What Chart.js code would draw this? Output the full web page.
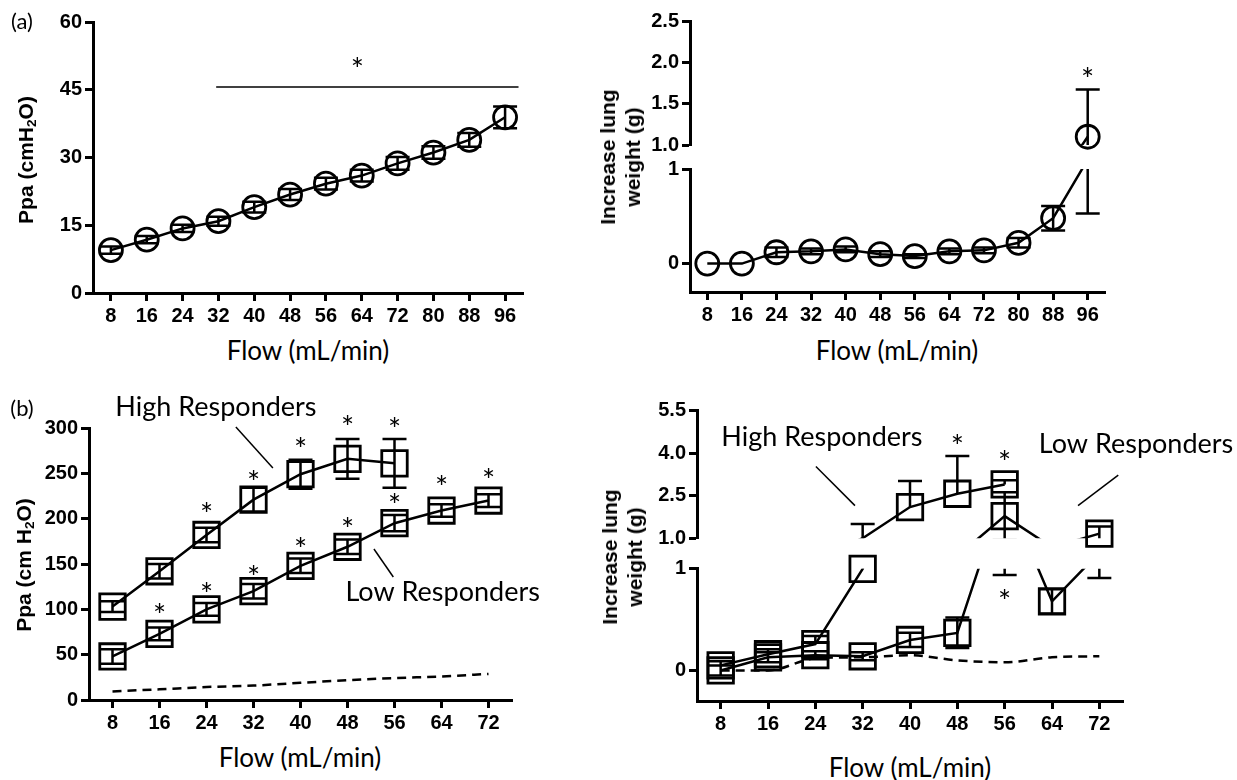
<!DOCTYPE html>
<html>
<head>
<meta charset="utf-8">
<script src="https://cdn.jsdelivr.net/npm/chart.js@4.4.0/dist/chart.umd.min.js"></script>
<style>
html, body { margin: 0; padding: 0; background: #fff; }
#fig { position: relative; width: 1237px; height: 780px; overflow: hidden; }
canvas { position: absolute; }
.t { position: absolute; white-space: nowrap; transform: translate(-50%, -50%); color: #000; }
.flow { font-family: Lato, 'Open Sans', sans-serif; font-size: 26px; }
.lab { font-family: Lato, 'Open Sans', sans-serif; font-size: 22px; }
.yt { font-family: 'Liberation Sans', Arial, sans-serif; font-weight: bold; font-size: 21px; line-height: 25px;
      text-align: center; transform: translate(-50%, -50%) rotate(-90deg); }
sub { font-size: 0.65em; vertical-align: -0.25em; line-height: 0; }
</style>
</head>
<body>
<div id="fig">
  <canvas id="aL"></canvas>
  <canvas id="aRup"></canvas>
  <canvas id="aRlo"></canvas>
  <canvas id="bL"></canvas>
  <canvas id="bRup"></canvas>
  <canvas id="bRlo"></canvas>

  <div class="t lab" style="left:22px;top:20px">(a)</div>
  <div class="t lab" style="left:22px;top:407px">(b)</div>
  <div class="t yt" style="left:25px;top:160px">Ppa (cmH<sub>2</sub>O)</div>
  <div class="t yt" style="left:620px;top:157px">Increase lung<br>weight (g)</div>
  <div class="t yt" style="left:23px;top:565px">Ppa (cm H<sub>2</sub>O)</div>
  <div class="t yt" style="left:622px;top:557px">Increase lung<br>weight (g)</div>
  <div class="t flow" style="left:308px;top:350px">Flow (mL/min)</div>
  <div class="t flow" style="left:897px;top:350px">Flow (mL/min)</div>
  <div class="t flow" style="left:300px;top:757px">Flow (mL/min)</div>
  <div class="t flow" style="left:910px;top:767px">Flow (mL/min)</div>
</div>
<script>
// flow categories
const flowA = ['8', '16', '24', '32', '40', '48', '56', '64', '72', '80', '88', '96'];
const flowB = flowA.slice(0, 9);

// (a) Ppa vs flow
const ppaA = [9.5, 11.8, 14.3, 15.9, 19.0, 21.8, 24.2, 26.0, 28.7, 31.1, 33.9, 38.9];
const ppaAErr = [0.8, 0.8, 0.8, 1.0, 1.2, 1.2, 1.3, 1.3, 1.4, 1.4, 1.5, 2.4];
const ppaATicks = [0, 15, 30, 45, 60];

// (a) lung weight increase
const lungA = [0, 0, 0.12, 0.13, 0.15, 0.10, 0.08, 0.13, 0.14, 0.22, 0.48, 1.10];
const lungAErr = [0, 0, 0.05, 0.03, 0.03, 0.03, 0.02, 0.03, 0.03, 0.05, 0.13, 0.57];
const lungAStar = [null, null, null, null, null, null, null, null, null, null, null, 1.88];
const lungAUpTicks = [1.0, 1.5, 2.0, 2.5];
const lungALoTicks = [0, 1];

// (b) Ppa, high / low responders
const ppaHigh = [103, 142, 182, 221, 249, 266, 261];
const ppaHighErr = [6, 8, 8, 13, 16, 22, 27];
const ppaHighStar = [null, null, 213, 248, 285, 309, 307];
const ppaLow = [48, 73, 100, 120, 148, 169, 195, 209, 220];
const ppaLowErr = [8, 7, 7, 8, 8, 8, 9, 7, 7];
const ppaLowStar = [null, 101, 125, 143, 174, 196, 223, 243, 250];
const ppaBTicks = [0, 50, 100, 150, 200, 250, 300];

// (b) lung weight, high / low responders
const lungHigh = [0.05, 0.16, 0.26, 1.0, 2.1, 2.57, 2.9];
const lungHighErr = [0.04, 0.05, 0.08, 0.5, 0.92, 1.33, 0.15];
const lungHighStar = [null, null, null, null, null, 4.5, 3.94];
const lungLow = [0.0, 0.13, 0.15, 0.14, 0.30, 0.37, 1.78, 0.68, 1.16];
const lungLowErr = [0.05, 0.05, 0.04, 0.04, 0.07, 0.15, 0.84, 0.12, 0.25];
const lungLowStar = [null, null, null, null, null, null, 0.75, null, null];
const lungBUpTicks = [1.0, 2.5, 4.0, 5.5];
const lungBLoTicks = [0, 1];

const BLACK = '#000';
const tickFont = { family: "'Liberation Sans', Arial, sans-serif", size: 20, weight: 'bold' };

const overlay = {
    id: 'overlay',
    afterDatasetsDraw(chart, args, opts) {
        const ctx = chart.ctx;
        const xs = chart.scales.x, ys = chart.scales.y, a = chart.chartArea;
        const px = (f) => xs.getPixelForValue((f - 8) / 8);
        const keep = opts.keep || (() => true);

        // error bars, clipped to this segment
        ctx.save();
        ctx.beginPath();
        ctx.rect(a.left, a.top, a.right - a.left, a.bottom - a.top);
        ctx.clip();
        ctx.strokeStyle = BLACK;
        ctx.lineWidth = 2.5;
        chart.data.datasets.forEach(ds => {
            if (!ds.errors) return;
            ds.data.forEach((v, i) => {
                const e = ds.errors[i];
                if (v == null || !e) return;
                const x = xs.getPixelForValue(i);
                const hi = ys.getPixelForValue(ds.errDir === 'down' ? v : v + e);
                const lo = ys.getPixelForValue(ds.errDir === 'up' ? v : v - e);
                ctx.beginPath();
                ctx.moveTo(x, hi);
                ctx.lineTo(x, lo);
                if (ds.errDir !== 'down') { ctx.moveTo(x - 12, hi); ctx.lineTo(x + 12, hi); }
                if (ds.errDir !== 'up') { ctx.moveTo(x - 12, lo); ctx.lineTo(x + 12, lo); }
                ctx.stroke();
            });
        });
        ctx.restore();

        ctx.save();
        ctx.fillStyle = BLACK;
        ctx.strokeStyle = BLACK;
        // significance stars
        ctx.font = '31px Lato, sans-serif';
        ctx.textAlign = 'center';
        ctx.textBaseline = 'alphabetic';
        const m = ctx.measureText('*');
        const shift = (m.actualBoundingBoxAscent - m.actualBoundingBoxDescent) / 2;
        (opts.stars || []).forEach(list => {
            list.forEach((v, i) => {
                if (v == null || !keep(v)) return;
                ctx.fillText('*', xs.getPixelForValue(i), ys.getPixelForValue(v) + shift);
            });
        });
        (opts.freeStars || []).forEach(s => {
            ctx.fillText('*', px(s.flow), ys.getPixelForValue(s.value) + shift);
        });
        // leader / bracket lines
        (opts.lines || []).forEach(l => {
            ctx.lineWidth = l.width || 1.5;
            ctx.beginPath();
            ctx.moveTo(px(l.from[0]), ys.getPixelForValue(l.from[1]));
            ctx.lineTo(px(l.to[0]), ys.getPixelForValue(l.to[1]));
            ctx.stroke();
        });
        // labels
        ctx.font = '27px Lato, sans-serif';
        ctx.textBaseline = 'middle';
        (opts.notes || []).forEach(n => {
            ctx.fillText(n.text, px(n.flow), ys.getPixelForValue(n.value));
        });
        ctx.restore();
    }
};

function axisLook() {
    return {
        grid: { display: true, drawOnChartArea: false, drawTicks: true, tickLength: 8, tickWidth: 3, tickColor: BLACK },
        border: { display: true, width: 3, color: BLACK }
    };
}

function xAxis(labels, show) {
    const ax = Object.assign(axisLook(), {
        type: 'category', labels: labels, offset: true, display: show,
        ticks: { color: BLACK, font: tickFont, padding: 3, maxRotation: 0, autoSkip: false }
    });
    if (show) ax.afterFit = (s) => { s.height = 40; };
    return ax;
}

function yAxis(min, max, tickVals, decimals) {
    return Object.assign(axisLook(), {
        type: 'linear', min: min, max: max,
        ticks: { color: BLACK, font: tickFont, padding: 3, callback: (v) => Number(v).toFixed(decimals) },
        afterBuildTicks: (s) => { s.ticks = tickVals.map(v => ({ value: v })); },
        afterFit: (s) => { s.width = 80; }
    });
}

function lineDs(data, dashed) {
    return {
        data: data, borderColor: BLACK, borderWidth: 2.5, pointRadius: 0, fill: false,
        borderDash: dashed ? [9, 6] : [], tension: dashed ? 0.4 : 0,
        cubicInterpolationMode: dashed ? 'monotone' : 'default'
    };
}

function markDs(data, errors, style, radius, keep, dir) {
    return {
        data: data, errors: errors, errDir: dir || 'both', showLine: false, clip: false,
        pointStyle: style,
        pointRadius: (c) => (c.raw != null && keep(c.raw)) ? radius : 0,
        pointBorderWidth: 2.8, pointBorderColor: BLACK, pointBackgroundColor: 'rgba(0,0,0,0)'
    };
}

// area = plot box inside the page; the canvas is built around it
function panel(id, area, labels, showX, y, datasets, extra) {
    const padTop = extra.padTop || 20, yW = 80;
    const padBottom = showX ? 0 : 16;
    const xH = showX ? 40 : 0;
    const canvasRight = extra.canvasRight || area.r + 30;
    const el = document.getElementById(id);
    el.width = canvasRight - (area.l - yW);
    el.height = padTop + (area.b - area.t) + xH + padBottom;
    el.style.left = (area.l - yW) + 'px';
    el.style.top = (area.t - padTop) + 'px';
    return new Chart(el, {
        type: 'line',
        data: { labels: labels, datasets: datasets },
        options: {
            responsive: false, animation: false, devicePixelRatio: 1, events: [],
            layout: { padding: { top: padTop, bottom: padBottom, left: 0, right: canvasRight - area.r } },
            scales: { x: xAxis(labels, showX), y: y },
            plugins: { legend: { display: false }, tooltip: { enabled: false }, overlay: extra.overlay }
        },
        plugins: [overlay]
    });
}

const all = () => true;
const upA = (v) => v > 1, loA = (v) => v <= 1;

// (a) left
panel('aL', { l: 93, t: 22, r: 523, b: 293 }, flowA, true, yAxis(0, 60, ppaATicks, 0), [
    lineDs(ppaA),
    markDs(ppaA, ppaAErr, 'circle', 11.5, all)
], { overlay: {
    lines: [{ from: [31.5, 45.6], to: [99, 45.6], width: 1.5 }],
    freeStars: [{ flow: 63, value: 51.2 }]
} });

// (a) right, broken axis
const lungASets = (keep) => [
    lineDs(lungA),
    markDs(lungA, lungAErr, 'circle', 11.5, keep)
];
panel('aRup', { l: 690, t: 21, r: 1105, b: 145 }, flowA, false, yAxis(1, 2.5, lungAUpTicks, 1),
    lungASets(upA), { overlay: { keep: upA, stars: [lungAStar] } });
panel('aRlo', { l: 690, t: 169, r: 1105, b: 292 }, flowA, true, yAxis(-0.3, 1, lungALoTicks, 0),
    lungASets(loA), { overlay: { keep: loA, stars: [lungAStar] } });

// (b) left
panel('bL', { l: 89, t: 428, r: 512, b: 700 }, flowB, true, yAxis(0, 300, ppaBTicks, 0), [
    lineDs(ppaA.slice(0, 9), true),
    lineDs(ppaHigh),
    lineDs(ppaLow),
    markDs(ppaHigh, ppaHighErr, 'rect', 18, all),
    markDs(ppaLow, ppaLowErr, 'rect', 18, all)
], { canvasRight: 570, padTop: 50, overlay: {
    stars: [ppaHighStar, ppaLowStar],
    notes: [{ text: 'High Responders', flow: 25.6, value: 323 },
            { text: 'Low Responders', flow: 64.2, value: 119 }],
    lines: [{ from: [29.0, 301], to: [35.3, 256] },
            { from: [52.5, 166.5], to: [55.8, 135.7] }]
} });

// (b) right, broken axis
const lungBSets = (keep) => [
    lineDs(lungA.slice(0, 9), true),
    lineDs(lungHigh),
    lineDs(lungLow),
    markDs(lungHigh, lungHighErr, 'rect', 18, keep, 'up'),
    markDs(lungLow, lungLowErr, 'rect', 18, keep)
];
panel('bRup', { l: 697, t: 410, r: 1123, b: 543 }, flowB, false, yAxis(1, 5.5, lungBUpTicks, 1),
    lungBSets(upA), { canvasRight: 1237, overlay: {
        keep: upA,
        stars: [lungHighStar, lungLowStar],
        notes: [{ text: 'High Responders', flow: 25.1, value: 4.58 },
                { text: 'Low Responders', flow: 78.2, value: 4.31 }],
        lines: [{ from: [24.1, 3.53], to: [30.7, 2.15] },
                { from: [75.2, 3.23], to: [68.4, 2.15] }]
    } });
panel('bRlo', { l: 697, t: 568, r: 1123, b: 701 }, flowB, true, yAxis(-0.3, 1, lungBLoTicks, 0),
    lungBSets(loA), { canvasRight: 1237, overlay: { keep: loA, stars: [lungHighStar, lungLowStar] } });
</script>
</body>
</html>
